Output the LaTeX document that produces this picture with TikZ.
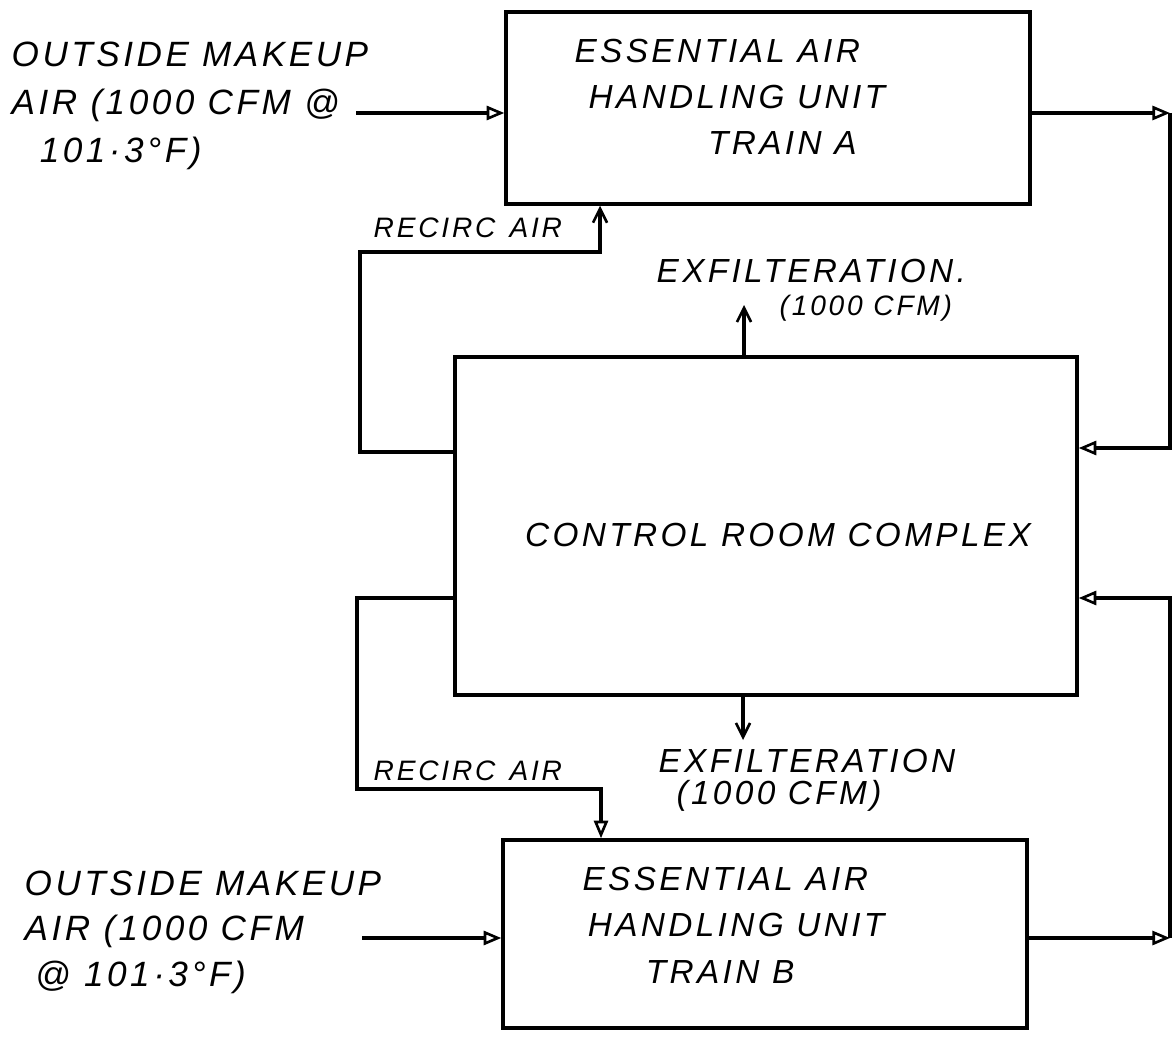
\documentclass[tikz,border=0pt]{standalone}
\usepackage{fontspec}
\setmainfont{Liberation Sans}
\newfontfamily\handfont[LetterSpace=10]{Liberation Sans}
\usetikzlibrary{arrows.meta, positioning, calc}

\begin{document}
\begin{tikzpicture}[x=0.02cm, y=-0.02cm, line width=1.9pt,
    unitbox/.style={draw, line width=2pt, inner sep=0pt},
    hand/.style={font=\handfont\fontsize{19}{27}\selectfont\itshape, inner sep=0pt},
    handsmall/.style={font=\handfont\fontsize{16}{20}\selectfont\itshape, inner sep=0pt},
    flow/.style={-{Triangle[open, length=10pt, width=8pt, line width=1.5pt]}},
    vent/.style={-{Straight Barb[length=8pt, width=8pt, line width=1.5pt]}}]
  \useasboundingbox (0,0) rectangle (1176,1037);

  % boxes
  \node[unitbox, minimum width=10.48cm, minimum height=3.84cm] (ahuA) at (768,108) {};
  \node[unitbox, minimum width=12.44cm, minimum height=6.76cm] (room) at (766,526) {};
  \node[unitbox, minimum width=10.48cm, minimum height=3.76cm] (ahuB) at (765,934) {};

  % box texts
  \node[hand, align=left, font=\handfont\fontsize{19}{26}\selectfont\itshape, anchor=west] (txtA) at (573,97)
    {ESSENTIAL AIR\\\hspace{8pt}HANDLING UNIT\\\hspace{76pt}TRAIN A};
  \node[hand] (txtRoom) at (778,535) {CONTROL ROOM COMPLEX};
  \node[hand, align=left, font=\handfont\fontsize{19}{26.5}\selectfont\itshape, anchor=west] (txtB) at (581,925)
    {ESSENTIAL AIR\\\hspace{3pt}HANDLING UNIT\\\hspace{36pt}TRAIN B};

  % makeup air labels
  \node[hand, align=left, font=\handfont\fontsize{20}{27.5}\selectfont\itshape, anchor=north west] (mkA) at (10,40)
    {OUTSIDE MAKEUP\\AIR (1000 CFM @\\\hspace{0.8em}101·3°F)};
  \node[hand, align=left, font=\handfont\fontsize{20}{26}\selectfont\itshape, anchor=north west] (mkB) at (23,869)
    {OUTSIDE MAKEUP\\AIR (1000 CFM\\\hspace{0.3em}@ 101·3°F)};

  % recirc and exfiltration labels
  \node[handsmall, anchor=west] (recLabA) at (372,228) {RECIRC\enspace AIR};
  \node[handsmall, anchor=west] (recLabB) at (372,771) {RECIRC\enspace AIR};
  \node[hand, anchor=west] (exLabA) at (655,271) {EXFILTERATION.};
  \node[handsmall, anchor=west] (exCfmA) at (778,308) {(1000 CFM)};
  \node[hand, anchor=west] (exLabB) at (657,761) {EXFILTERATION};
  \node[hand, anchor=west] (exCfmB) at (675,796) {(1000 CFM)};

  % connector points
  \coordinate (inA) at (356,113);
  \coordinate (inB) at (362,938);
  \coordinate (riserA) at (1170,113);
  \coordinate (supA) at (1170,448);
  \coordinate (riserB) at (1170,938);
  \coordinate (supB) at (1170,598);
  \coordinate (recA1) at (360,452);
  \coordinate (recA2) at (360,252);
  \coordinate (recA3) at (600,252);
  \coordinate (recB1) at (357,598);
  \coordinate (recB2) at (357,789);
  \coordinate (recB3) at (601,789);
  \coordinate (exA) at (744,305);
  \coordinate (exB) at (743,740);

  % outside makeup air
  \draw[flow] (inA) -- (inA -| ahuA.west);
  \draw[flow] (inB) -- (inB -| ahuB.west);

  % supply to control room
  \draw[flow] (riserA -| ahuA.east) -- (riserA);
  \draw[flow] (riserA) -- (supA) -- (supA -| room.east);
  \draw[flow] (riserB -| ahuB.east) -- (riserB);
  \draw[flow] (riserB) -- (supB) -- (supB -| room.east);

  % recirculation
  \draw[vent] (recA1 -| room.west) -- (recA1) -- (recA2) -- (recA3) -- (recA3 |- ahuA.south);
  \draw[flow] (recB1 -| room.west) -- (recB1) -- (recB2) -- (recB3) -- (recB3 |- ahuB.north);

  % exfiltration
  \draw[vent] (exA |- room.north) -- (exA);
  \draw[vent] (exB |- room.south) -- (exB);
\end{tikzpicture}
\end{document}
